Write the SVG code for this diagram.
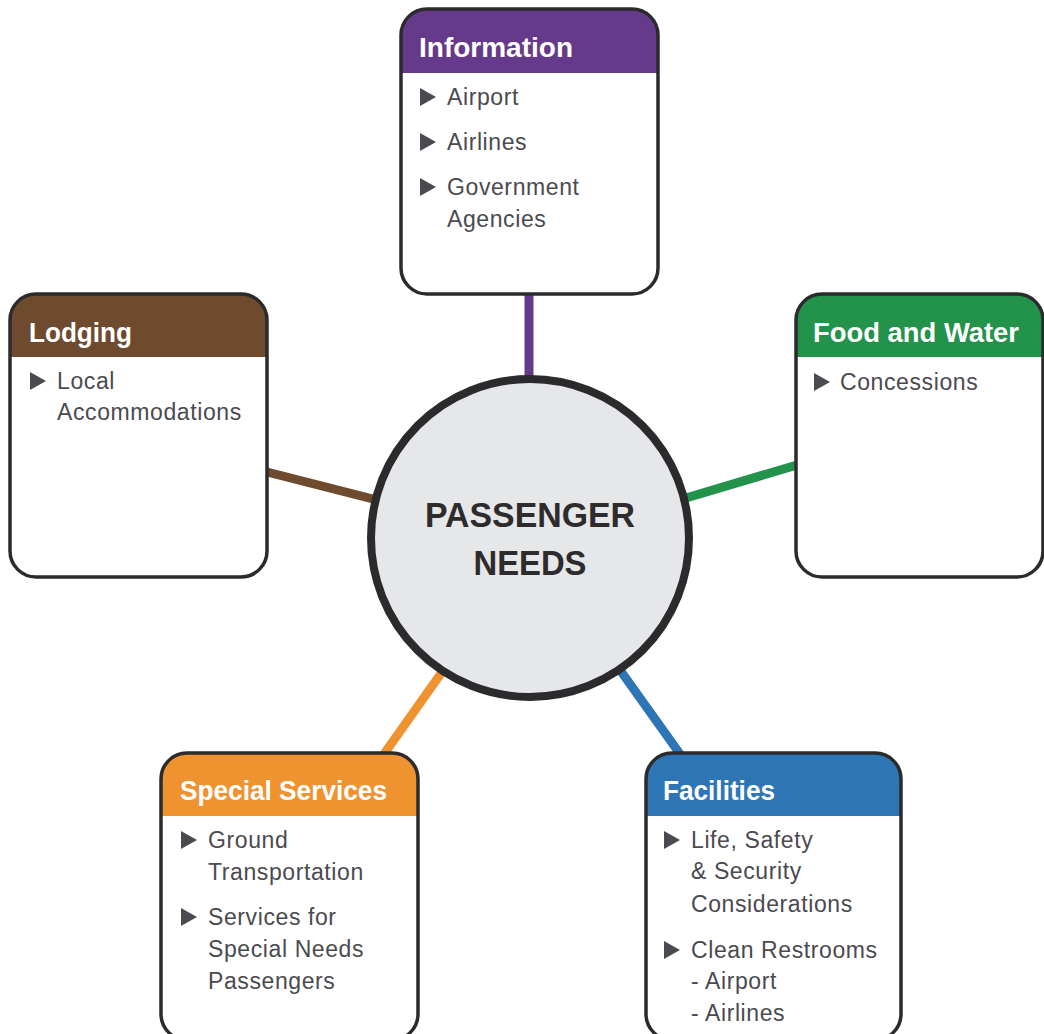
<svg xmlns="http://www.w3.org/2000/svg" width="1044" height="1034" viewBox="0 0 1044 1034">
<style>
.box{fill:#ffffff;}
.outline{fill:none;stroke:#2b2a2c;stroke-width:3.5;}
.hdr{font-family:"Liberation Sans",Arial,sans-serif;font-weight:bold;font-size:27px;fill:#ffffff;}
.item{font-family:"Liberation Sans",Arial,sans-serif;font-size:23px;letter-spacing:0.6px;fill:#4a4a50;}
.tri{fill:#4a4a50;}
.conn{fill:none;stroke-width:9;stroke-linecap:butt;}
.center{font-family:"Liberation Sans",Arial,sans-serif;font-weight:bold;font-size:35px;fill:#2d2b2c;text-anchor:middle;}
</style>
<rect width="1044" height="1034" fill="#ffffff"/>
<g id="connectors">
<line class="conn" x1="529" y1="294" x2="529" y2="378" stroke="#663a8a"/>
<line class="conn" x1="686" y1="498" x2="797" y2="465" stroke="#23924a"/>
<line class="conn" x1="267" y1="472" x2="373" y2="499" stroke="#6e4b2f"/>
<line class="conn" x1="384" y1="754" x2="442" y2="672" stroke="#ef9331"/>
<line class="conn" x1="620" y1="670" x2="680" y2="754" stroke="#2e75b6"/>
</g>
<g id="center">
<circle cx="530" cy="538" r="159" fill="#e6e7e9" stroke="#2b2a2c" stroke-width="8"/>
<text class="center" x="530" y="527" textLength="210" lengthAdjust="spacingAndGlyphs">PASSENGER</text>
<text class="center" x="530" y="575" textLength="113" lengthAdjust="spacingAndGlyphs">NEEDS</text>
</g>
<g id="information">
<rect class="box" x="401" y="9" width="257" height="285" rx="26"/>
<path d="M401,73 V35 A26,26 0 0 1 427,9 H632 A26,26 0 0 1 658,35 V73 Z" fill="#663a8a"/>
<rect class="outline" x="401" y="9" width="257" height="285" rx="26"/>
<text class="hdr" x="419" y="57" textLength="154" lengthAdjust="spacingAndGlyphs">Information</text>
<path class="tri" d="M420,88 L436,97 L420,106 Z"/>
<text class="item" x="447" y="105">Airport</text>
<path class="tri" d="M420,133 L436,142 L420,151 Z"/>
<text class="item" x="447" y="150">Airlines</text>
<path class="tri" d="M420,178 L436,187 L420,196 Z"/>
<text class="item" x="447" y="195">Government</text>
<text class="item" x="447" y="227">Agencies</text>
</g>
<g id="food">
<rect class="box" x="796" y="294" width="247" height="283" rx="26"/>
<path d="M796,357 V320 A26,26 0 0 1 822,294 H1017 A26,26 0 0 1 1043,320 V357 Z" fill="#23924a"/>
<rect class="outline" x="796" y="294" width="247" height="283" rx="26"/>
<text class="hdr" x="813" y="342" textLength="206" lengthAdjust="spacingAndGlyphs">Food and Water</text>
<path class="tri" d="M814,373 L830,382 L814,391 Z"/>
<text class="item" x="840" y="390">Concessions</text>
</g>
<g id="lodging">
<rect class="box" x="10" y="294" width="257" height="283" rx="26"/>
<path d="M10,357 V320 A26,26 0 0 1 36,294 H241 A26,26 0 0 1 267,320 V357 Z" fill="#6e4b2f"/>
<rect class="outline" x="10" y="294" width="257" height="283" rx="26"/>
<text class="hdr" x="29" y="342" textLength="103" lengthAdjust="spacingAndGlyphs">Lodging</text>
<path class="tri" d="M30,372 L46,381 L30,390 Z"/>
<text class="item" x="57" y="389">Local</text>
<text class="item" x="57" y="420">Accommodations</text>
</g>
<g id="special">
<rect class="box" x="161" y="753" width="257" height="287" rx="26"/>
<path d="M161,816 V779 A26,26 0 0 1 187,753 H392 A26,26 0 0 1 418,779 V816 Z" fill="#ef9331"/>
<rect class="outline" x="161" y="753" width="257" height="287" rx="26"/>
<text class="hdr" x="180" y="800" textLength="207" lengthAdjust="spacingAndGlyphs">Special Services</text>
<path class="tri" d="M181,831 L197,840 L181,849 Z"/>
<text class="item" x="208" y="848">Ground</text>
<text class="item" x="208" y="880">Transportation</text>
<path class="tri" d="M181,908 L197,917 L181,926 Z"/>
<text class="item" x="208" y="925">Services for</text>
<text class="item" x="208" y="957">Special Needs</text>
<text class="item" x="208" y="989">Passengers</text>
</g>
<g id="facilities">
<rect class="box" x="646" y="753" width="255" height="287" rx="26"/>
<path d="M646,816 V779 A26,26 0 0 1 672,753 H875 A26,26 0 0 1 901,779 V816 Z" fill="#2e75b6"/>
<rect class="outline" x="646" y="753" width="255" height="287" rx="26"/>
<text class="hdr" x="663" y="800" textLength="112" lengthAdjust="spacingAndGlyphs">Facilities</text>
<path class="tri" d="M664,831 L680,840 L664,849 Z"/>
<text class="item" x="691" y="848">Life, Safety</text>
<text class="item" x="691" y="879">&amp; Security</text>
<text class="item" x="691" y="912">Considerations</text>
<path class="tri" d="M664,941 L680,950 L664,959 Z"/>
<text class="item" x="691" y="958">Clean Restrooms</text>
<text class="item" x="691" y="989">- Airport</text>
<text class="item" x="691" y="1021">- Airlines</text>
</g>
</svg>
